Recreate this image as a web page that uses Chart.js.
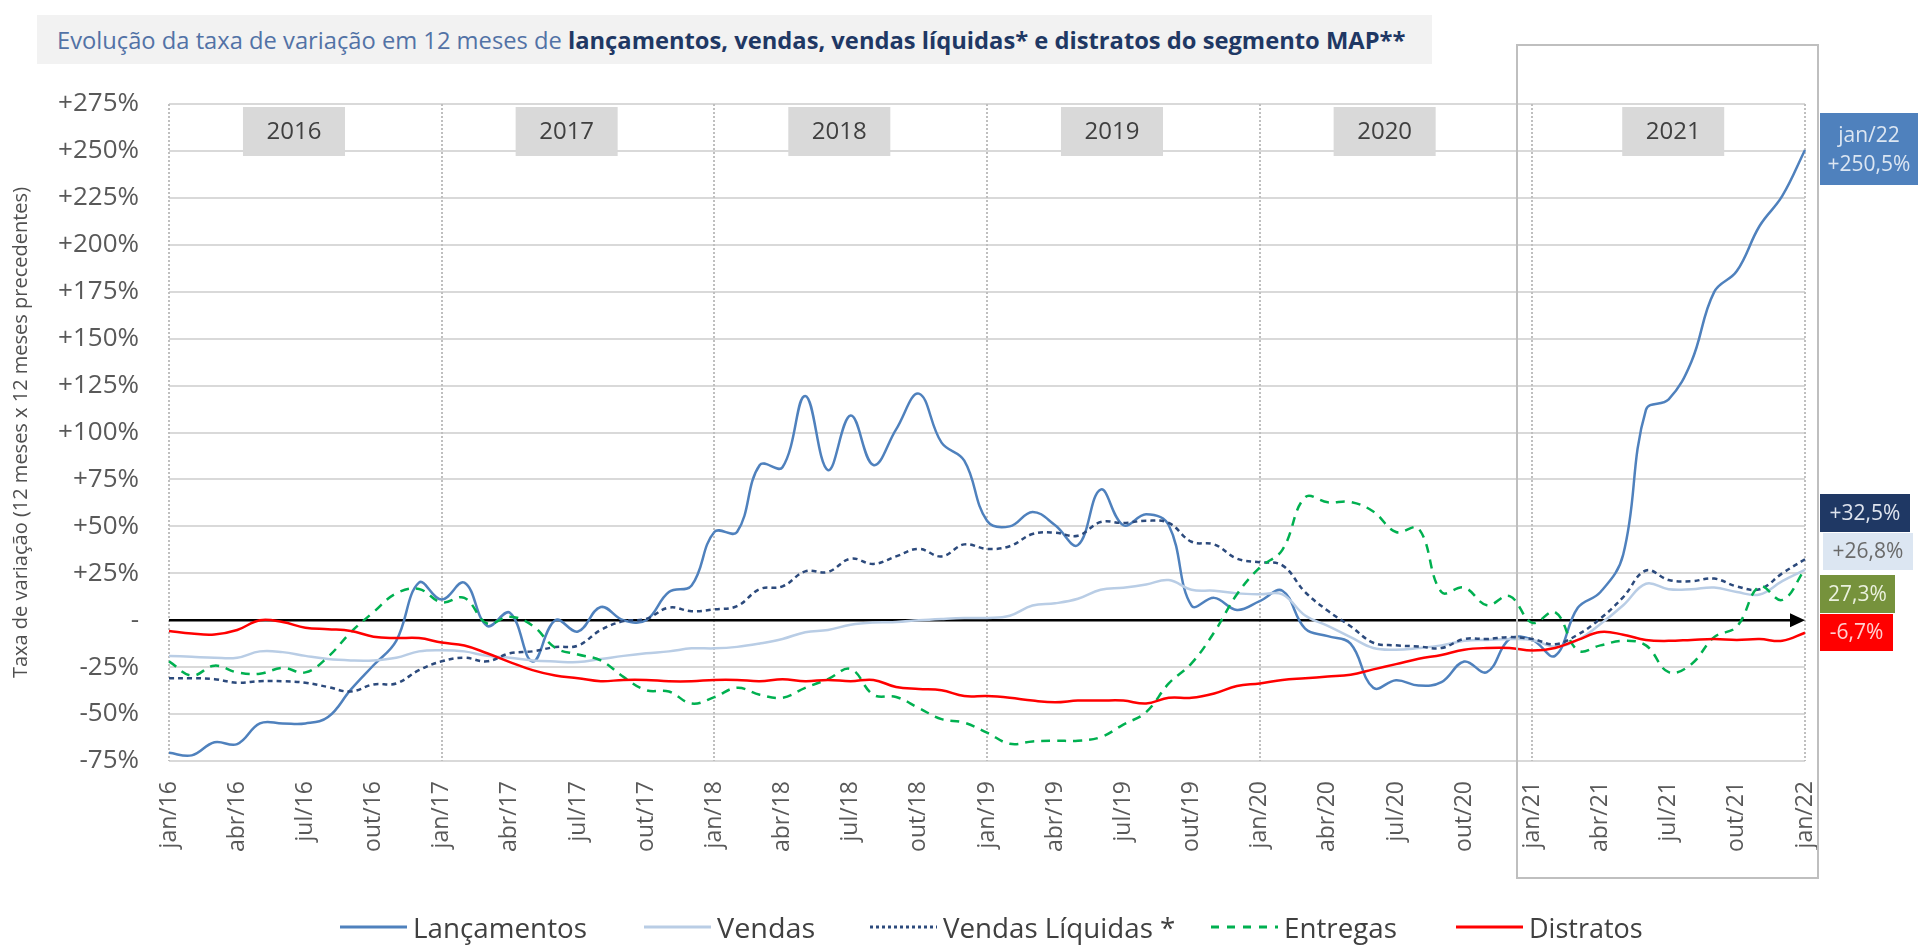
<!DOCTYPE html>
<html lang="pt-BR">
<head>
<meta charset="utf-8">
<title>Evolução da taxa de variação em 12 meses - segmento MAP</title>
<script src="https://cdn.jsdelivr.net/npm/chart.js@4.4.1/dist/chart.umd.min.js"></script>
<style>
  html, body { margin: 0; padding: 0; background: #fff; }
  body { width: 1919px; height: 947px; position: relative; overflow: hidden; font-family: 'Open Sans', sans-serif; }
  #grafico { position: absolute; left: 0; top: 0; }
  .titulo { position: absolute; left: 37px; top: 15px; width: 1395px; height: 49px; background: #f2f2f2; }
  .titulo .txt { position: absolute; left: 20px; top: 0; line-height: 49px; font-size: 24px; white-space: nowrap; transform-origin: left center; color: #5272a6; }
  .titulo b { color: #1f3864; font-weight: 700; }
  .leg { position: absolute; top: 908px; height: 38px; display: flex; align-items: center; }
  .leg span { font-size: 27px; color: #404040; white-space: nowrap; display: inline-block; transform-origin: left center; }
  .leg svg { margin-right: 6px; }
</style>
</head>
<body>
<canvas id="grafico" width="1919" height="947"></canvas>
<div class="titulo"><span class="txt">Evolução da taxa de variação em 12 meses de <b>lançamentos, vendas, vendas líquidas* e distratos do segmento MAP**</b></span></div>
<div id="legenda"></div>
<script>
// Categorias: meses de jan/16 até jan/22
const meses = ["jan", "fev", "mar", "abr", "mai", "jun", "jul", "ago", "set", "out", "nov", "dez"];
const anos = ["2016", "2017", "2018", "2019", "2020", "2021"];
const rotulos = [];
anos.forEach(a => meses.forEach(m => rotulos.push(m + "/" + a.slice(2))));
rotulos.push("jan/22");

// Taxa de variação em 12 meses (%)
const lancamentos = [
  -70.6, -72, -65, -66, -55, -55, -55, -51.6, -37, -24, -11, 20,
  11, 20, -3, 4, -22, 0, -6, 7, 0, 0, 15, 18.5,
  47, 47, 82.7, 81.5, 119.5, 80, 109, 82.7, 101.7, 120.7, 94.6, 85,
  53, 50, 57.7, 50.6, 40, 69.6, 50.6, 56.5, 50.6, 7.8, 11.9, 5.5,
  10.2, 15.7, -4.5, -8.5, -12.5, -36, -32, -34.8, -33, -22, -27.7, -10,
  -10.5, -19, 6.6, 15, 35, 112, 117.7, 137.7, 174.8, 186, 210, 226,
  250.5
];
const vendas = [
  -19, -19.5, -20, -20, -16.6, -17, -19, -20.7, -21.4, -21.4, -20, -16.6,
  -16, -16.6, -19, -20, -21.4, -22, -22.3, -20.7, -19, -17.6, -16.6, -15,
  -15, -14.2, -12.4, -10, -6.4, -5.2, -2.4, -1.2, -1, 0, 0.7, 1.2,
  1.2, 2.4, 7.8, 9, 11.4, 16.2, 17.3, 19, 21.4, 16.2, 15.7, 14.3,
  13.8, 13.8, 2.5, -3, -9, -14.8, -15.7, -14.8, -13.4, -11, -10.5, -10,
  -10.5, -14, -10.5, -2, 8, 19.4, 16.5, 16.5, 17.4, 15, 13.7, 20.8,
  26.8
];
const vendasLiquidas = [
  -30.9, -30.9, -31.4, -33.3, -32.5, -32.5, -33.3, -35.6, -38, -34.2, -33.7, -26.6,
  -21.9, -20, -21.9, -17.6, -16.6, -14.3, -13.5, -5.2, -0.5, 0.7, 6.7, 4.8,
  5.8, 7.5, 16.6, 18, 26, 25.7, 32.8, 30, 34, 38, 34, 40.4,
  38, 39.4, 45.9, 46.6, 45, 52.3, 51.8, 53, 51.8, 41.8, 40.4, 32.8,
  30.9, 29.2, 15, 5, -3.2, -12, -13.4, -14, -14.8, -10, -10, -9,
  -10, -12.8, -7.7, 0.9, 12.3, 26.5, 21.4, 20.8, 22.2, 18, 16.5, 25,
  32.5
];
const entregas = [
  -21.9, -29.5, -24.2, -27.8, -28.5, -25.4, -27.8, -19.5, -6.4, 4.3, 14.3, 16.6,
  9.5, 11.9, -1.7, 1.9, -2.9, -14.7, -18.3, -21.4, -30.2, -37.3, -38, -44.4,
  -41, -36, -39.7, -41.3, -36, -31.4, -26, -39.7, -40.9, -46.8, -52.7, -54.6,
  -59.9, -65.8, -64.6, -64.2, -64.2, -62.3, -55.6, -49, -33.7, -23, -6.4, 13.8,
  28, 37.5, 65.5, 62.8, 63, 57.9, 47, 48.8, 15, 17.4, 8, 12.8,
  -1.4, 4.3, -16, -13.4, -11, -13.4, -27.7, -23.4, -9, -3.4, 18, 10.8,
  27.3
];
const distratos = [
  -5.7, -7.1, -7.6, -5.2, 0, -1, -4, -4.8, -5.7, -8.8, -9.5, -9.5,
  -11.9, -13.5, -17.6, -22.3, -26.6, -29.5, -30.9, -32.5, -31.8, -31.8, -32.5, -32.5,
  -31.8, -31.8, -32.5, -31.4, -32.5, -31.8, -32.5, -31.8, -35.6, -36.6, -37.3, -40.4,
  -40.4, -41.3, -42.8, -43.7, -42.8, -42.8, -42.8, -44.4, -41.3, -41.3, -39, -35,
  -33.7, -31.8, -30.9, -30, -29, -26.2, -23.4, -20.5, -18.5, -15.7, -14.8, -14.8,
  -16.2, -14.8, -10.5, -6.3, -7.7, -10.5, -11, -10.5, -10, -10.5, -10, -11,
  -6.7
];

const series = [
  { label: "Lançamentos", data: lancamentos, borderColor: "#4f81bd", order: 5, legDash: "" },
  { label: "Vendas", data: vendas, borderColor: "#b9cde5", order: 4, legDash: "" },
  { label: "Vendas Líquidas *", data: vendasLiquidas, borderColor: "#2c4a7c", borderDash: [5, 4], order: 3, legDash: "3 3" },
  { label: "Entregas", data: entregas, borderColor: "#00b050", borderDash: [9, 7], order: 2, legDash: "8 8" },
  { label: "Distratos", data: distratos, borderColor: "#ff0000", order: 1, legDash: "" }
];

function formatar(v, sinal) {
  return (sinal && v > 0 ? "+" : "") + v.toFixed(1).replace(".", ",") + "%";
}

// Rótulos do último mês, à direita do gráfico
const rotulosFinais = [
  { serie: lancamentos, sinal: true, x: 1820, y: 113, w: 98, h: 72, fundo: "#4f81bd", cor: "#dce6f2", topo: "jan/22" },
  { serie: vendasLiquidas, sinal: true, x: 1820, y: 494, w: 90, h: 38, fundo: "#1f3864", cor: "#dfe4ee" },
  { serie: vendas, sinal: true, x: 1823, y: 533, w: 90, h: 37, fundo: "#dce6f2", cor: "#6a6a6a" },
  { serie: entregas, sinal: false, x: 1820, y: 575, w: 75, h: 38, fundo: "#76923c", cor: "#ebf1de" },
  { serie: distratos, sinal: true, x: 1820, y: 614, w: 73, h: 37, fundo: "#ff0000", cor: "#ffd0d0" }
];

const centroAnos = [5.5, 17.5, 29.5, 41.5, 53.5, 66.2];

const decoracao = {
  id: "decoracao",
  beforeDatasetsDraw(chart) {
    const { ctx, chartArea: a, scales: { x, y } } = chart;
    ctx.save();
    // linhas pontilhadas na virada de cada ano
    ctx.strokeStyle = "#bfbfbf";
    ctx.lineWidth = 2;
    ctx.setLineDash([2, 2]);
    for (let i = 0; i < rotulos.length; i += 12) {
      const px = Math.round(x.getPixelForValue(i));
      ctx.beginPath();
      ctx.moveTo(px, a.top);
      ctx.lineTo(px, a.bottom);
      ctx.stroke();
    }
    ctx.setLineDash([]);
    // caixas com os anos
    ctx.font = "24px 'Open Sans'";
    ctx.textAlign = "center";
    ctx.textBaseline = "middle";
    anos.forEach((ano, k) => {
      const cx = x.getPixelForValue(centroAnos[k]);
      ctx.fillStyle = "#d9d9d9";
      ctx.fillRect(cx - 51, a.top + 3, 102, 49);
      ctx.fillStyle = "#404040";
      ctx.fillText(ano, cx, a.top + 28);
    });
    // eixo do zero com seta
    const y0 = y.getPixelForValue(0);
    ctx.strokeStyle = "#000";
    ctx.lineWidth = 2.5;
    ctx.beginPath();
    ctx.moveTo(a.left, y0);
    ctx.lineTo(a.right - 12, y0);
    ctx.stroke();
    ctx.fillStyle = "#000";
    ctx.beginPath();
    ctx.moveTo(a.right, y0);
    ctx.lineTo(a.right - 15, y0 - 7);
    ctx.lineTo(a.right - 15, y0 + 7);
    ctx.closePath();
    ctx.fill();
    ctx.restore();
  },
  afterDraw(chart) {
    const ctx = chart.ctx;
    ctx.save();
    // moldura de 2021
    ctx.strokeStyle = "#bfbfbf";
    ctx.lineWidth = 2;
    ctx.strokeRect(1517, 45, 301, 833);
    // valores finais
    ctx.font = "21px 'Open Sans'";
    ctx.textAlign = "center";
    ctx.textBaseline = "middle";
    rotulosFinais.forEach(r => {
      ctx.fillStyle = r.fundo;
      ctx.fillRect(r.x, r.y, r.w, r.h);
      ctx.fillStyle = r.cor;
      const txt = formatar(r.serie[r.serie.length - 1], r.sinal);
      if (r.topo) {
        ctx.fillText(r.topo, r.x + r.w / 2, r.y + 23);
        ctx.fillText(txt, r.x + r.w / 2, r.y + 52);
      } else {
        ctx.fillText(txt, r.x + r.w / 2, r.y + r.h / 2 + 1);
      }
    });
    ctx.restore();
  }
};

Chart.defaults.font.family = "'Open Sans', sans-serif";

new Chart(document.getElementById("grafico"), {
  type: "line",
  data: {
    labels: rotulos,
    datasets: series.map(s => ({
      label: s.label,
      data: s.data,
      borderColor: s.borderColor,
      borderDash: s.borderDash || [],
      borderWidth: 2.5,
      pointRadius: 0,
      tension: 0.4,
      fill: false,
      order: s.order
    }))
  },
  options: {
    responsive: false,
    animation: false,
    devicePixelRatio: 1,
    layout: { padding: { left: 0, top: 104, right: 114, bottom: 0 } },
    plugins: { legend: { display: false }, tooltip: { enabled: false } },
    scales: {
      x: {
        afterFit: s => { s.height = 186; },
        grid: { display: false, drawTicks: false },
        border: { display: false },
        ticks: {
          autoSkip: false,
          maxRotation: 90,
          minRotation: 90,
          padding: 20,
          color: "#595959",
          font: { size: 23 },
          callback: (v, i) => i % 3 === 0 ? rotulos[i] : ""
        }
      },
      y: {
        min: -75,
        max: 275,
        afterFit: s => { s.width = 169; },
        grid: { color: "#d9d9d9", lineWidth: 2, drawTicks: false },
        border: { display: false },
        ticks: {
          stepSize: 25,
          padding: 30,
          color: "#595959",
          font: { size: 26 },
          callback: v => v > 0 ? "+" + v + "%" : (v === 0 ? "-" : v + "%")
        },
        title: {
          display: true,
          text: "Taxa de variação (12 meses x 12 meses precedentes)",
          color: "#505050",
          font: { size: 20 },
          padding: { top: 9, bottom: 0 }
        }
      }
    }
  },
  plugins: [decoracao]
});

// Legenda em HTML
const posLegenda = [340, 644, 870, 1211, 1456];
const largLegenda = [174, 98, 232, 113, 114];
const legenda = document.getElementById("legenda");
series.forEach((s, i) => {
  const item = document.createElement("div");
  item.className = "leg";
  item.style.left = posLegenda[i] + "px";
  item.innerHTML = '<svg width="67" height="6"><line x1="0" y1="3" x2="67" y2="3" stroke="' + s.borderColor +
    '" stroke-width="3"' + (s.legDash ? ' stroke-dasharray="' + s.legDash + '"' : '') + '/></svg><span>' + s.label + '</span>';
  legenda.appendChild(item);
});

function ajustar() {
  document.querySelectorAll(".leg span").forEach((el, i) => {
    el.style.transform = "scaleX(" + (largLegenda[i] / el.offsetWidth) + ")";
  });
  const t = document.querySelector(".titulo .txt");
  t.style.transform = "scaleX(" + (1348 / t.offsetWidth) + ")";
}
ajustar();
document.fonts.ready.then(ajustar);
</script>
</body>
</html>
